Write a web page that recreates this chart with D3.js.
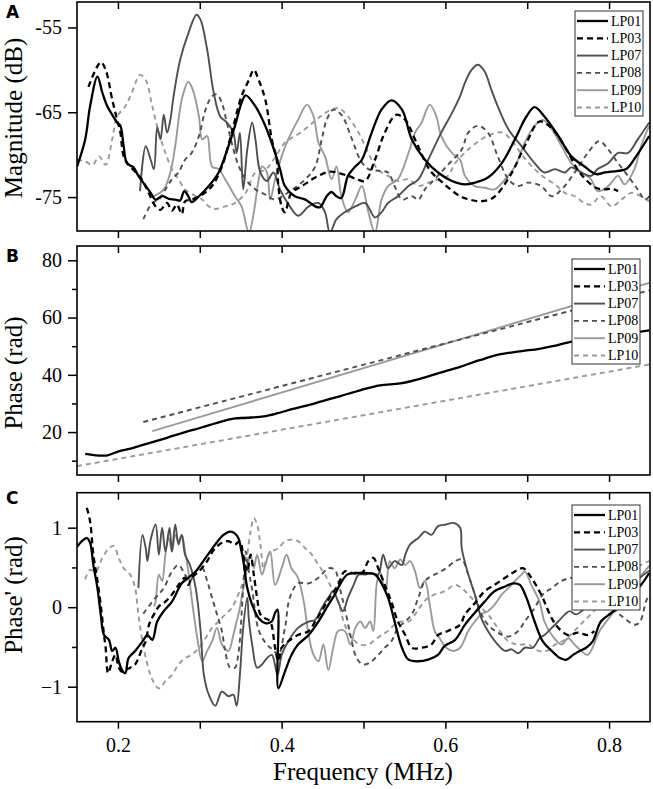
<!DOCTYPE html>
<html><head><meta charset="utf-8">
<script src="https://cdn.jsdelivr.net/npm/d3@7"></script>
<style>body{margin:0;background:#fff}</style>
</head><body><svg id="chart" width="653" height="789"></svg>
<script>
// ---------------- DATA ----------------
const seriesNames = ["LP01","LP03","LP07","LP08","LP09","LP10"];
const freqTicks = [0.2,0.4,0.6,0.8];
const freqMinorTicks = [0.3,0.5,0.7];
const magTicks = [-75,-65,-55];
const phaseTicks = [20,40,60,80];
const phaseMinorTicks = [10,30,50,70];
const derivTicks = [-1,0,1];
const derivMinorTicks = [-0.5,0.5];

// Panel A: Magnitude (dB) vs Frequency (MHz)
const magLP01 = [[0.150,-71.4],[0.160,-68.2],[0.166,-64.3],[0.175,-60.8],[0.181,-62.7],[0.187,-64.3],[0.193,-65.3],[0.199,-66.2],[0.203,-66.6],[0.207,-69.0],[0.211,-71.0],[0.219,-71.5],[0.225,-72.5],[0.234,-73.7],[0.240,-74.5],[0.246,-75.3],[0.254,-74.9],[0.262,-75.2],[0.270,-75.3],[0.276,-75.4],[0.281,-74.3],[0.286,-74.9],[0.290,-75.6],[0.299,-74.9],[0.311,-73.7],[0.323,-72.1],[0.335,-69.0],[0.343,-66.6],[0.351,-63.9],[0.356,-63.0],[0.368,-64.3],[0.380,-66.6],[0.392,-69.8],[0.398,-71.7],[0.404,-73.7],[0.416,-74.9],[0.429,-75.3],[0.441,-76.1],[0.447,-76.2],[0.455,-74.9],[0.461,-74.4],[0.467,-74.9],[0.473,-75.1],[0.481,-72.5],[0.490,-71.4],[0.498,-70.6],[0.510,-67.4],[0.522,-64.7],[0.534,-63.6],[0.547,-64.7],[0.559,-68.2],[0.575,-70.6],[0.591,-72.1],[0.608,-73.1],[0.624,-73.5],[0.636,-73.3],[0.652,-72.7],[0.669,-71.0],[0.685,-68.2],[0.699,-65.5],[0.709,-64.4],[0.721,-65.5],[0.738,-67.8],[0.754,-70.2],[0.770,-71.4],[0.784,-72.3],[0.795,-72.1],[0.811,-71.9],[0.821,-71.7],[0.833,-70.2],[0.849,-67.8]];
const magLP03 = [[0.164,-62.0],[0.179,-59.1],[0.185,-60.0],[0.193,-63.5],[0.199,-65.9],[0.203,-67.4],[0.207,-70.2],[0.213,-71.2],[0.221,-72.0],[0.229,-72.9],[0.237,-74.4],[0.246,-76.1],[0.252,-76.5],[0.260,-75.7],[0.266,-76.6],[0.272,-75.9],[0.278,-77.0],[0.282,-75.5],[0.290,-75.3],[0.303,-74.7],[0.315,-73.7],[0.327,-71.4],[0.339,-67.4],[0.351,-63.1],[0.360,-61.2],[0.366,-60.0],[0.372,-61.2],[0.380,-63.5],[0.388,-68.2],[0.394,-70.6],[0.396,-73.7],[0.400,-76.1],[0.404,-76.8],[0.412,-74.5],[0.425,-73.7],[0.441,-72.7],[0.459,-72.0],[0.481,-72.5],[0.492,-72.9],[0.502,-73.1],[0.514,-70.6],[0.526,-67.4],[0.540,-65.3],[0.551,-65.9],[0.563,-68.2],[0.581,-71.8],[0.599,-73.5],[0.618,-74.9],[0.630,-75.3],[0.642,-75.5],[0.658,-75.1],[0.679,-72.5],[0.699,-68.6],[0.715,-66.1],[0.731,-67.0],[0.748,-69.4],[0.764,-72.1],[0.784,-73.9],[0.796,-74.1],[0.803,-74.0],[0.811,-74.3]];
const magLP07 = [[0.227,-74.3],[0.234,-69.0],[0.240,-70.6],[0.244,-71.7],[0.248,-66.8],[0.252,-68.2],[0.256,-65.3],[0.260,-67.4],[0.264,-65.9],[0.268,-63.1],[0.276,-58.8],[0.286,-55.7],[0.296,-53.5],[0.301,-54.1],[0.309,-57.6],[0.317,-62.7],[0.325,-65.5],[0.333,-66.2],[0.341,-67.4],[0.345,-69.8],[0.349,-67.4],[0.353,-74.1],[0.358,-69.4],[0.364,-66.2],[0.368,-68.2],[0.374,-72.1],[0.382,-73.1],[0.390,-72.1],[0.398,-74.1],[0.410,-76.1],[0.420,-77.2],[0.433,-76.1],[0.445,-75.7],[0.453,-76.8],[0.459,-79.2],[0.467,-77.6],[0.477,-76.8],[0.490,-76.1],[0.502,-75.7],[0.514,-77.4],[0.522,-76.8],[0.530,-75.7],[0.542,-74.9],[0.555,-73.7],[0.567,-72.9],[0.579,-70.6],[0.595,-67.4],[0.608,-65.1],[0.618,-63.1],[0.624,-61.5],[0.632,-60.0],[0.640,-59.4],[0.648,-60.2],[0.656,-62.3],[0.664,-64.3],[0.677,-67.0],[0.693,-69.0],[0.709,-71.0],[0.721,-72.1],[0.734,-71.7],[0.746,-72.1],[0.754,-71.5],[0.766,-72.1],[0.778,-72.5],[0.786,-71.7],[0.799,-71.0],[0.811,-69.8],[0.823,-69.8],[0.835,-68.2],[0.849,-66.2]];
const magLP08 = [[0.231,-77.6],[0.242,-75.7],[0.250,-75.3],[0.258,-74.1],[0.266,-72.9],[0.274,-72.1],[0.282,-70.6],[0.290,-69.8],[0.299,-67.8],[0.307,-64.7],[0.315,-63.1],[0.321,-62.9],[0.327,-63.9],[0.333,-66.2],[0.339,-68.6],[0.347,-71.2],[0.356,-72.9],[0.368,-74.1],[0.380,-74.7],[0.392,-75.3],[0.404,-74.7],[0.416,-73.9],[0.429,-72.9],[0.441,-71.4],[0.449,-68.2],[0.455,-65.9],[0.463,-64.7],[0.473,-65.3],[0.486,-68.2],[0.496,-70.6],[0.506,-71.7],[0.520,-71.9],[0.530,-72.1],[0.538,-73.7],[0.547,-75.3],[0.559,-74.9],[0.567,-75.3],[0.575,-74.1],[0.587,-72.9],[0.603,-71.2],[0.620,-69.4],[0.628,-67.4],[0.640,-66.6],[0.652,-67.4],[0.664,-70.2],[0.677,-72.9],[0.689,-73.7],[0.701,-73.3],[0.717,-73.7],[0.730,-74.9],[0.742,-74.1],[0.758,-72.1],[0.774,-69.8],[0.788,-68.4],[0.799,-69.4],[0.811,-71.0],[0.823,-72.5],[0.835,-74.1],[0.844,-75.3],[0.849,-74.9]];
const magLP09 = [[0.244,-74.9],[0.256,-74.1],[0.264,-72.1],[0.270,-69.0],[0.278,-63.5],[0.286,-61.4],[0.292,-62.5],[0.299,-65.5],[0.303,-68.2],[0.309,-67.8],[0.315,-71.4],[0.323,-71.7],[0.331,-72.9],[0.343,-74.9],[0.351,-76.1],[0.360,-79.2],[0.366,-76.8],[0.372,-72.9],[0.376,-71.4],[0.382,-72.1],[0.386,-75.3],[0.392,-72.9],[0.400,-70.2],[0.408,-68.2],[0.420,-65.9],[0.431,-64.1],[0.439,-65.5],[0.445,-68.6],[0.453,-70.2],[0.461,-72.9],[0.467,-71.4],[0.473,-74.9],[0.481,-76.8],[0.490,-75.3],[0.498,-73.7],[0.506,-76.8],[0.514,-79.2],[0.522,-75.3],[0.530,-73.7],[0.542,-72.9],[0.555,-69.8],[0.563,-67.4],[0.571,-66.2],[0.581,-64.1],[0.589,-65.5],[0.595,-67.8],[0.608,-69.8],[0.618,-70.6],[0.624,-72.5],[0.636,-73.7],[0.648,-73.9],[0.660,-74.1],[0.673,-72.9],[0.685,-71.4],[0.697,-68.6],[0.709,-66.6],[0.719,-65.9],[0.730,-67.0],[0.742,-69.0],[0.754,-71.0],[0.766,-72.1],[0.778,-72.9],[0.786,-74.3],[0.799,-73.7],[0.811,-72.5],[0.819,-73.5],[0.831,-71.7],[0.839,-69.0],[0.849,-66.6]];
const magLP10 = [[0.150,-70.6],[0.160,-70.8],[0.169,-71.2],[0.177,-70.2],[0.185,-71.2],[0.193,-68.2],[0.199,-65.5],[0.209,-64.3],[0.217,-62.7],[0.227,-60.6],[0.234,-61.2],[0.242,-64.3],[0.250,-67.4],[0.258,-69.8],[0.266,-71.7],[0.274,-72.9],[0.282,-74.1],[0.295,-74.9],[0.303,-75.3],[0.311,-76.1],[0.319,-76.4],[0.331,-76.1],[0.343,-75.7],[0.356,-74.5],[0.368,-72.1],[0.380,-71.8],[0.392,-70.3],[0.404,-68.6],[0.423,-67.4],[0.441,-66.0],[0.453,-65.1],[0.469,-64.5],[0.481,-65.5],[0.494,-67.4],[0.502,-69.0],[0.510,-70.6],[0.518,-71.8],[0.530,-72.5],[0.542,-73.1],[0.555,-72.9],[0.567,-73.7],[0.579,-73.3],[0.591,-72.9],[0.603,-72.5],[0.612,-71.0],[0.628,-69.4],[0.644,-68.2],[0.656,-67.6],[0.670,-67.4],[0.683,-68.6],[0.695,-70.2],[0.709,-71.7],[0.721,-72.7],[0.734,-73.5],[0.746,-74.5],[0.758,-74.9],[0.770,-75.7],[0.778,-75.9],[0.790,-74.9],[0.803,-76.1],[0.815,-75.3],[0.827,-74.5],[0.839,-74.9],[0.849,-75.5]];

// Panel B: Phase (rad)
const phaseLP01 = [[0.160,12.4],[0.186,11.8],[0.200,13.2],[0.219,14.5],[0.240,16.3],[0.260,18.0],[0.280,19.8],[0.301,21.5],[0.321,23.2],[0.341,24.7],[0.358,25.0],[0.378,25.5],[0.394,26.5],[0.414,28.1],[0.435,29.6],[0.459,31.6],[0.471,32.5],[0.496,34.6],[0.520,36.3],[0.545,37.0],[0.569,38.6],[0.593,40.7],[0.618,42.8],[0.642,45.1],[0.666,47.1],[0.691,48.2],[0.715,49.1],[0.731,50.0],[0.756,51.7],[0.800,53.5],[0.849,55.5]];
const phaseLP08 = [[0.231,23.5],[0.849,69.5]];
const phaseLP09 = [[0.242,20.3],[0.849,72.1]];
const phaseLP10 = [[0.150,8.1],[0.849,43.6]];

// Panel C: Phase' (rad)
const derivLP01 = [[0.150,0.76],[0.156,0.83],[0.162,0.87],[0.166,0.81],[0.170,0.53],[0.175,0.24],[0.179,-0.09],[0.183,-0.35],[0.189,-0.41],[0.193,-0.55],[0.197,-0.51],[0.201,-0.68],[0.205,-0.79],[0.209,-0.83],[0.213,-0.64],[0.221,-0.55],[0.230,-0.43],[0.236,-0.35],[0.242,-0.41],[0.248,-0.18],[0.256,-0.05],[0.266,0.07],[0.278,0.30],[0.286,0.37],[0.295,0.45],[0.307,0.62],[0.319,0.79],[0.329,0.91],[0.338,0.95],[0.346,0.89],[0.351,0.70],[0.354,0.53],[0.358,0.24],[0.364,0.03],[0.372,-0.14],[0.380,-0.20],[0.388,-0.18],[0.392,-0.07],[0.395,-0.03],[0.396,-1.02],[0.404,-0.81],[0.412,-0.60],[0.420,-0.47],[0.433,-0.35],[0.445,-0.18],[0.457,0.03],[0.465,0.16],[0.471,0.28],[0.480,0.41],[0.490,0.43],[0.502,0.43],[0.514,0.41],[0.522,0.30],[0.530,0.12],[0.538,-0.18],[0.547,-0.51],[0.555,-0.66],[0.567,-0.68],[0.579,-0.66],[0.591,-0.60],[0.599,-0.49],[0.612,-0.41],[0.624,-0.22],[0.636,-0.07],[0.648,0.07],[0.660,0.20],[0.673,0.26],[0.683,0.30],[0.691,0.28],[0.699,0.12],[0.709,-0.18],[0.719,-0.43],[0.730,-0.55],[0.740,-0.64],[0.748,-0.66],[0.756,-0.60],[0.764,-0.55],[0.772,-0.51],[0.780,-0.43],[0.790,-0.18],[0.803,-0.07],[0.815,0.03],[0.827,0.16],[0.839,0.28],[0.849,0.43]];
const derivLP03 = [[0.162,1.25],[0.166,1.08],[0.170,0.66],[0.175,0.33],[0.179,0.03],[0.183,-0.35],[0.185,-0.51],[0.188,-0.83],[0.193,-0.68],[0.197,-0.60],[0.201,-0.76],[0.205,-0.81],[0.209,-0.79],[0.215,-0.76],[0.221,-0.72],[0.230,-0.51],[0.234,-0.43],[0.238,-0.22],[0.244,-0.09],[0.250,0.01],[0.258,0.07],[0.266,0.16],[0.274,0.28],[0.282,0.37],[0.286,0.28],[0.290,0.37],[0.299,0.45],[0.309,0.58],[0.317,0.72],[0.327,0.81],[0.335,0.83],[0.343,0.79],[0.349,0.83],[0.353,0.66],[0.358,0.45],[0.362,0.66],[0.366,0.41],[0.370,0.12],[0.374,-0.09],[0.380,-0.14],[0.386,-0.18],[0.392,-0.51],[0.396,-0.68],[0.400,-0.51],[0.408,-0.43],[0.420,-0.35],[0.433,-0.30],[0.441,-0.18],[0.451,-0.01],[0.461,0.16],[0.469,0.28],[0.477,0.45],[0.486,0.43],[0.498,0.43],[0.506,0.58],[0.512,0.62],[0.518,0.49],[0.526,0.28],[0.534,0.07],[0.542,-0.18],[0.551,-0.35],[0.559,-0.51],[0.571,-0.51],[0.583,-0.47],[0.591,-0.35],[0.603,-0.30],[0.618,-0.22],[0.624,-0.09],[0.636,0.05],[0.648,0.20],[0.660,0.28],[0.673,0.37],[0.685,0.45],[0.695,0.49],[0.705,0.37],[0.717,0.16],[0.730,-0.14],[0.738,-0.26],[0.750,-0.35],[0.762,-0.32],[0.774,-0.35],[0.782,-0.30]];
const derivLP07 = [[0.225,0.24],[0.230,0.91],[0.234,0.74],[0.236,0.58],[0.240,0.85],[0.246,1.04],[0.250,0.66],[0.254,1.00],[0.258,0.70],[0.263,1.00],[0.266,0.70],[0.270,1.04],[0.274,0.79],[0.278,0.91],[0.282,0.66],[0.288,0.53],[0.295,0.24],[0.301,-0.30],[0.305,-0.85],[0.311,-1.10],[0.319,-1.24],[0.327,-1.06],[0.335,-1.12],[0.341,-1.10],[0.345,-1.24],[0.349,-0.85],[0.353,-0.26],[0.358,0.12],[0.360,-0.16],[0.364,-0.47],[0.370,-0.76],[0.376,-0.72],[0.382,-0.64],[0.388,-0.60],[0.395,-0.85],[0.400,-0.60],[0.408,-0.43],[0.420,-0.26],[0.433,-0.18],[0.441,-0.16],[0.449,-0.01],[0.457,0.12],[0.463,0.20],[0.469,0.07],[0.475,-0.05],[0.481,0.12],[0.488,0.28],[0.494,0.41],[0.502,0.41],[0.510,0.43],[0.518,0.41],[0.524,0.66],[0.530,0.49],[0.538,0.58],[0.547,0.53],[0.551,0.66],[0.557,0.79],[0.567,0.87],[0.575,0.95],[0.583,0.91],[0.591,1.02],[0.601,1.04],[0.610,1.06],[0.618,1.00],[0.620,0.74],[0.628,0.41],[0.636,0.16],[0.644,-0.14],[0.652,-0.30],[0.664,-0.47],[0.673,-0.55],[0.681,-0.53],[0.689,-0.58],[0.697,-0.51],[0.707,-0.51],[0.715,-0.39],[0.721,-0.35],[0.730,-0.26],[0.738,-0.18],[0.746,-0.09],[0.752,-0.05],[0.760,-0.09],[0.776,0.03],[0.801,0.15],[0.825,0.28],[0.849,0.46]];
const derivLP08 = [[0.231,-0.08],[0.246,0.12],[0.256,0.24],[0.266,0.45],[0.274,0.53],[0.282,0.41],[0.288,0.33],[0.295,0.45],[0.303,0.49],[0.309,0.33],[0.315,0.12],[0.321,-0.09],[0.327,-0.30],[0.331,-0.55],[0.337,-0.76],[0.343,-0.76],[0.347,-0.60],[0.353,0.24],[0.356,0.70],[0.359,0.51],[0.364,0.22],[0.372,-0.29],[0.382,-0.47],[0.390,-0.54],[0.396,-0.60],[0.404,-0.26],[0.410,0.12],[0.420,0.30],[0.433,0.30],[0.445,0.37],[0.457,0.49],[0.465,0.47],[0.471,0.24],[0.477,-0.01],[0.484,-0.35],[0.490,-0.60],[0.496,-0.70],[0.502,-0.72],[0.510,-0.68],[0.518,-0.60],[0.526,-0.51],[0.534,-0.43],[0.542,-0.26],[0.551,-0.18],[0.559,-0.09],[0.567,0.12],[0.575,0.33],[0.583,0.39],[0.591,0.43],[0.601,0.49],[0.612,0.58],[0.620,0.60],[0.628,0.41],[0.636,0.16],[0.644,-0.09],[0.652,-0.22],[0.664,-0.32],[0.677,-0.37],[0.689,-0.30],[0.697,-0.18],[0.709,-0.01],[0.719,0.16],[0.730,0.24],[0.742,0.33],[0.758,0.37],[0.777,0.28],[0.795,0.09],[0.814,-0.10],[0.832,-0.22],[0.838,-0.18],[0.845,0.07],[0.849,0.16]];
const derivLP09 = [[0.244,0.01],[0.246,0.07],[0.250,0.41],[0.254,0.33],[0.258,0.66],[0.262,0.87],[0.266,0.70],[0.270,0.91],[0.274,0.83],[0.278,0.91],[0.282,0.70],[0.286,0.45],[0.290,0.12],[0.297,-0.39],[0.303,-0.68],[0.309,-0.55],[0.315,-0.43],[0.321,-0.26],[0.327,-0.47],[0.335,-0.55],[0.341,-0.35],[0.345,-0.18],[0.349,-0.01],[0.353,0.24],[0.358,0.49],[0.362,0.66],[0.366,0.49],[0.370,0.66],[0.376,0.41],[0.380,0.53],[0.386,0.70],[0.392,0.28],[0.400,0.49],[0.406,0.66],[0.412,0.49],[0.420,0.37],[0.427,0.07],[0.433,-0.35],[0.439,-0.60],[0.445,-0.68],[0.451,-0.47],[0.457,-0.79],[0.463,-0.51],[0.469,-0.30],[0.477,-0.30],[0.484,-0.47],[0.490,-0.26],[0.496,-0.18],[0.502,-0.26],[0.508,-0.18],[0.512,-0.30],[0.516,0.28],[0.520,0.45],[0.527,0.20],[0.532,0.58],[0.538,0.49],[0.545,0.60],[0.551,0.53],[0.557,0.58],[0.563,0.45],[0.569,0.24],[0.575,0.33],[0.581,0.03],[0.587,-0.30],[0.593,-0.39],[0.601,-0.51],[0.610,-0.55],[0.618,-0.51],[0.628,-0.30],[0.636,-0.18],[0.644,-0.09],[0.652,-0.05],[0.660,0.03],[0.669,0.16],[0.677,0.24],[0.685,0.33],[0.693,0.41],[0.697,0.45],[0.705,0.28],[0.715,0.07],[0.721,-0.18],[0.730,-0.35],[0.742,-0.47],[0.750,-0.39],[0.758,-0.47],[0.766,-0.55],[0.774,-0.60],[0.789,-0.29],[0.807,-0.04],[0.825,0.22],[0.837,0.37],[0.849,0.52]];
const derivLP10 = [[0.160,0.35],[0.166,0.47],[0.173,0.45],[0.181,0.62],[0.189,0.74],[0.195,0.77],[0.201,0.62],[0.207,0.49],[0.215,0.41],[0.221,0.24],[0.225,-0.09],[0.230,-0.43],[0.236,-0.72],[0.242,-0.91],[0.250,-1.02],[0.258,-0.93],[0.266,-0.85],[0.274,-0.72],[0.282,-0.64],[0.290,-0.60],[0.299,-0.51],[0.307,-0.39],[0.315,-0.26],[0.323,-0.18],[0.331,-0.09],[0.339,-0.01],[0.347,0.16],[0.353,0.33],[0.358,0.66],[0.362,0.95],[0.366,1.12],[0.370,1.04],[0.374,0.79],[0.378,0.49],[0.382,0.62],[0.388,0.70],[0.396,0.74],[0.404,0.83],[0.412,0.85],[0.420,0.83],[0.429,0.74],[0.437,0.66],[0.445,0.53],[0.453,0.41],[0.461,0.24],[0.469,0.07],[0.477,-0.22],[0.486,-0.39],[0.496,-0.47],[0.506,-0.47],[0.514,-0.41],[0.522,-0.35],[0.530,-0.30],[0.538,-0.22],[0.547,-0.18],[0.555,-0.18],[0.563,-0.09],[0.571,0.03],[0.579,0.12],[0.587,0.16],[0.599,0.20],[0.612,0.28],[0.620,0.24],[0.628,0.16],[0.640,0.03],[0.652,-0.09],[0.664,-0.26],[0.677,-0.43],[0.689,-0.47],[0.701,-0.47],[0.714,-0.55],[0.724,-0.55],[0.734,-0.47],[0.746,-0.41],[0.765,-0.22],[0.789,0.03],[0.813,0.28],[0.839,0.53],[0.849,0.58]];

// ---------------- DRAWING ----------------
const styles = {
  LP01:{color:"#000000", dash:null, w:2.3},
  LP03:{color:"#000000", dash:"6,4", w:2.3},
  LP07:{color:"#4f4f4f", dash:null, w:1.9},
  LP08:{color:"#4f4f4f", dash:"5,4", w:1.9},
  LP09:{color:"#9a9a9a", dash:null, w:1.9},
  LP10:{color:"#9a9a9a", dash:"5,4", w:1.9}
};
const SERIF = "Liberation Serif";
const svg = d3.select("#chart");
const X0 = 77, X1 = 650;
const x = d3.scaleLinear().domain([0.15,0.85]).range([X0,X1]);

const panels = [
  {id:"A", top:2, bottom:231, domain:[-79,-52], ticks:magTicks, minor:[], fmt:d=>String(d),
   title:"Magnitude (dB)", titleY:118, letterY:18,
   data:{LP01:magLP01,LP03:magLP03,LP07:magLP07,LP08:magLP08,LP09:magLP09,LP10:magLP10},
   legend:{x:575,y:11}},
  {id:"B", top:246, bottom:475, domain:[5,85], ticks:phaseTicks, minor:phaseMinorTicks, fmt:d=>String(d),
   title:"Phase (rad)", titleY:373, letterY:262,
   data:{LP01:phaseLP01,LP08:phaseLP08,LP09:phaseLP09,LP10:phaseLP10},
   legend:{x:572,y:259}},
  {id:"C", top:492.7, bottom:721.7, domain:[-1.44,1.44], ticks:derivTicks, minor:derivMinorTicks, fmt:d3.format("d"),
   title:"Phase' (rad)", titleY:595, letterY:504,
   data:{LP01:derivLP01,LP03:derivLP03,LP07:derivLP07,LP08:derivLP08,LP09:derivLP09,LP10:derivLP10},
   legend:{x:572,y:505}, xLabels:true}
];

panels.forEach(p => {
  const y = d3.scaleLinear().domain(p.domain).range([p.bottom, p.top]);
  const g = svg.append("g");
  const clipId = "clip"+p.id;
  svg.append("clipPath").attr("id",clipId).append("rect")
    .attr("x",X0).attr("y",p.top).attr("width",X1-X0).attr("height",p.bottom-p.top);

  const line = d3.line().x(d=>x(d[0])).y(d=>y(d[1])).curve(d3.curveCatmullRom.alpha(0.5));
  const lg = g.append("g").attr("clip-path",`url(#${clipId})`);
  ["LP10","LP09","LP08","LP07","LP03","LP01"].forEach(name => {
    const d = p.data[name]; if(!d) return;
    const s = styles[name];
    lg.append("path").datum(d).attr("d",line).attr("fill","none")
      .attr("stroke",s.color).attr("stroke-width",s.w)
      .attr("stroke-dasharray",s.dash).attr("stroke-linejoin","round");
  });

  const ya = g.append("g").attr("transform",`translate(${X0},0)`)
    .call(d3.axisLeft(y).tickValues(p.ticks).tickSize(9).tickPadding(6).tickFormat(p.fmt));
  ya.attr("font-family",SERIF).attr("font-size",20);
  ya.select(".domain").remove();
  ya.selectAll("line").attr("stroke","#000").attr("stroke-width",1.5);
  ya.selectAll("text").attr("fill","#000");
  if (p.minor.length) {
    const ym = g.append("g").attr("transform",`translate(${X0},0)`)
      .call(d3.axisLeft(y).tickValues(p.minor).tickSize(5).tickFormat(""));
    ym.select(".domain").remove();
    ym.selectAll("line").attr("stroke","#000").attr("stroke-width",1.5);
  }

  const allX = freqTicks.concat(freqMinorTicks);
  const xb = g.append("g").attr("transform",`translate(0,${p.bottom})`)
    .call(d3.axisBottom(x).tickValues(allX).tickSize(7).tickPadding(9)
      .tickFormat(d => (p.xLabels && freqTicks.includes(d)) ? d3.format(".1f")(d) : ""));
  xb.attr("font-family",SERIF).attr("font-size",20);
  xb.select(".domain").remove();
  xb.selectAll("line").attr("stroke","#000").attr("stroke-width",1.5);
  xb.selectAll("text").attr("fill","#000");
  const xt = g.append("g").attr("transform",`translate(0,${p.top})`)
    .call(d3.axisTop(x).tickValues(allX).tickSize(-7).tickFormat(""));
  xt.select(".domain").remove();
  xt.selectAll("line").attr("stroke","#000").attr("stroke-width",1.5);

  g.append("rect").attr("x",X0).attr("y",p.top).attr("width",X1-X0).attr("height",p.bottom-p.top)
    .attr("fill","none").attr("stroke","#000").attr("stroke-width",1.6);

  g.append("text").attr("transform",`translate(22,${p.titleY}) rotate(-90)`)
    .attr("text-anchor","middle").attr("font-family",SERIF).attr("font-size",25)
    .text(p.title);

  g.append("text").attr("x",6).attr("y",p.letterY).attr("font-family","DejaVu Sans")
    .attr("font-weight","bold").attr("font-size",17).text(p.id);

  const L = p.legend, rowH = 17.3;
  const leg = g.append("g").attr("transform",`translate(${L.x},${L.y})`);
  leg.append("rect").attr("width",68).attr("height",105).attr("fill","#fff")
    .attr("stroke","#333").attr("stroke-width",1);
  seriesNames.forEach((name,i) => {
    const s = styles[name], cy = 10 + i*rowH;
    leg.append("line").attr("x1",2).attr("x2",33).attr("y1",cy).attr("y2",cy)
      .attr("stroke",s.color).attr("stroke-width",s.w).attr("stroke-dasharray",s.dash);
    leg.append("text").attr("x",36).attr("y",cy+4.5).attr("font-family",SERIF)
      .attr("font-size",14).text(name);
  });
});

svg.append("text").attr("x",363).attr("y",780).attr("text-anchor","middle")
  .attr("font-family",SERIF).attr("font-size",25).text("Frequency (MHz)");
</script>
</body></html>
